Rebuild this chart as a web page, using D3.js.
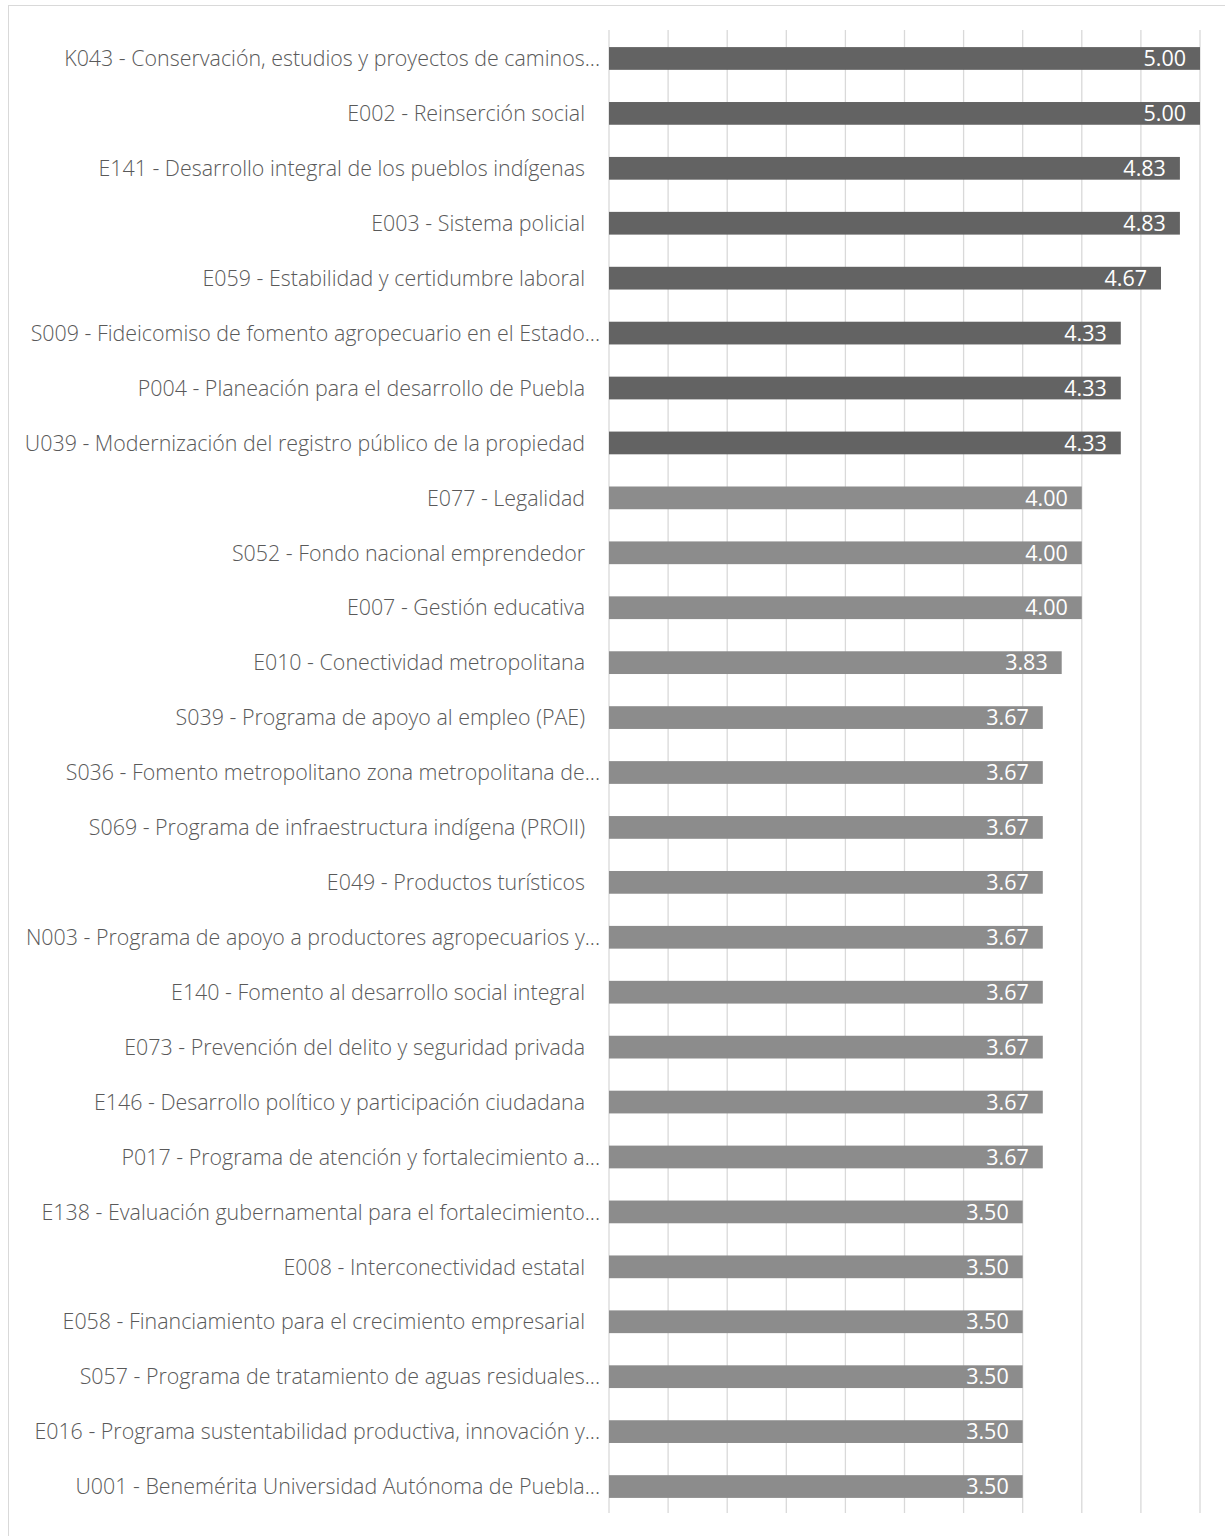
<!DOCTYPE html>
<html><head><meta charset="utf-8">
<script src="https://cdn.jsdelivr.net/npm/d3@7"></script>
<style>body{margin:0;background:#fff}</style>
</head><body>
<script>
const categories = [
"K043 - Conservación, estudios y proyectos de caminos...",
"E002 - Reinserción social",
"E141 - Desarrollo integral de los pueblos indígenas",
"E003 - Sistema policial",
"E059 - Estabilidad y certidumbre laboral",
"S009 - Fideicomiso de fomento agropecuario en el Estado...",
"P004 - Planeación para el desarrollo de Puebla",
"U039 - Modernización del registro público de la propiedad",
"E077 - Legalidad",
"S052 - Fondo nacional emprendedor",
"E007 - Gestión educativa",
"E010 - Conectividad metropolitana",
"S039 - Programa de apoyo al empleo (PAE)",
"S036 - Fomento metropolitano zona metropolitana de...",
"S069 - Programa de infraestructura indígena (PROII)",
"E049 - Productos turísticos",
"N003 - Programa de apoyo a productores agropecuarios y...",
"E140 - Fomento al desarrollo social integral",
"E073 - Prevención del delito y seguridad privada",
"E146 - Desarrollo político y participación ciudadana",
"P017 - Programa de atención y fortalecimiento a...",
"E138 - Evaluación gubernamental para el fortalecimiento...",
"E008 - Interconectividad estatal",
"E058 - Financiamiento para el crecimiento empresarial",
"S057 - Programa de tratamiento de aguas residuales...",
"E016 - Programa sustentabilidad productiva, innovación y...",
"U001 - Benemérita Universidad Autónoma de Puebla..."
];
const values = [5.00,5.00,4.83,4.83,4.67,4.33,4.33,4.33,4.00,4.00,4.00,3.83,3.67,3.67,3.67,3.67,3.67,3.67,3.67,3.67,3.67,3.50,3.50,3.50,3.50,3.50,3.50];
const groups = ["high","high","high","high","high","high","high","high","low","low","low","low","low","low","low","low","low","low","low","low","low","low","low","low","low","low","low"];
const ticks = [0,0.5,1,1.5,2,2.5,3,3.5,4,4.5,5];

const W=1225,H=1536;
const svg=d3.select("body").append("svg").attr("width",W).attr("height",H);
svg.append("rect").attr("x",8.5).attr("y",5.5).attr("width",W).attr("height",H).attr("fill","none").attr("stroke","#d9d9d9");

const x=d3.scaleLinear().domain([0,5]).range([609,1200]);
const y=d3.scaleBand().domain(categories).range([31,1514]).paddingInner(0.586).paddingOuter(0.293);
const color=d3.scaleOrdinal().domain(["high","low"]).range(["#636363","#8c8c8c"]);

svg.append("g").selectAll("line").data(ticks).join("line")
 .attr("x1",d=>x(d)).attr("x2",d=>x(d)).attr("y1",30).attr("y2",1513)
 .attr("stroke","#d9d9d9").attr("stroke-width",1.3);

const data=categories.map((c,i)=>({c,v:values[i],g:groups[i]}));
svg.append("g").selectAll("rect").data(data).join("rect")
 .attr("x",x(0)).attr("y",d=>y(d.c)).attr("width",d=>x(d.v)-x(0)).attr("height",y.bandwidth())
 .attr("fill",d=>color(d.g));

svg.append("g").selectAll("text").data(data).join("text")
 .attr("x",d=>x(d.v)-14).attr("y",d=>y(d.c)+y.bandwidth()/2).attr("dy","0.36em")
 .attr("text-anchor","end").attr("fill","#fff").attr("font-family","Open Sans").attr("font-size",21.5)
 .text(d=>d.v.toFixed(2));

svg.append("g").selectAll("text").data(data).join("text")
 .attr("x",d=>d.c.endsWith("...")?600:585).attr("y",d=>y(d.c)+y.bandwidth()/2).attr("dy","0.36em")
 .attr("text-anchor","end").attr("fill","#595959").attr("font-family","Open Sans").attr("font-weight",300).attr("font-size",21.4)
 .text(d=>d.c);
</script>
</body></html>
